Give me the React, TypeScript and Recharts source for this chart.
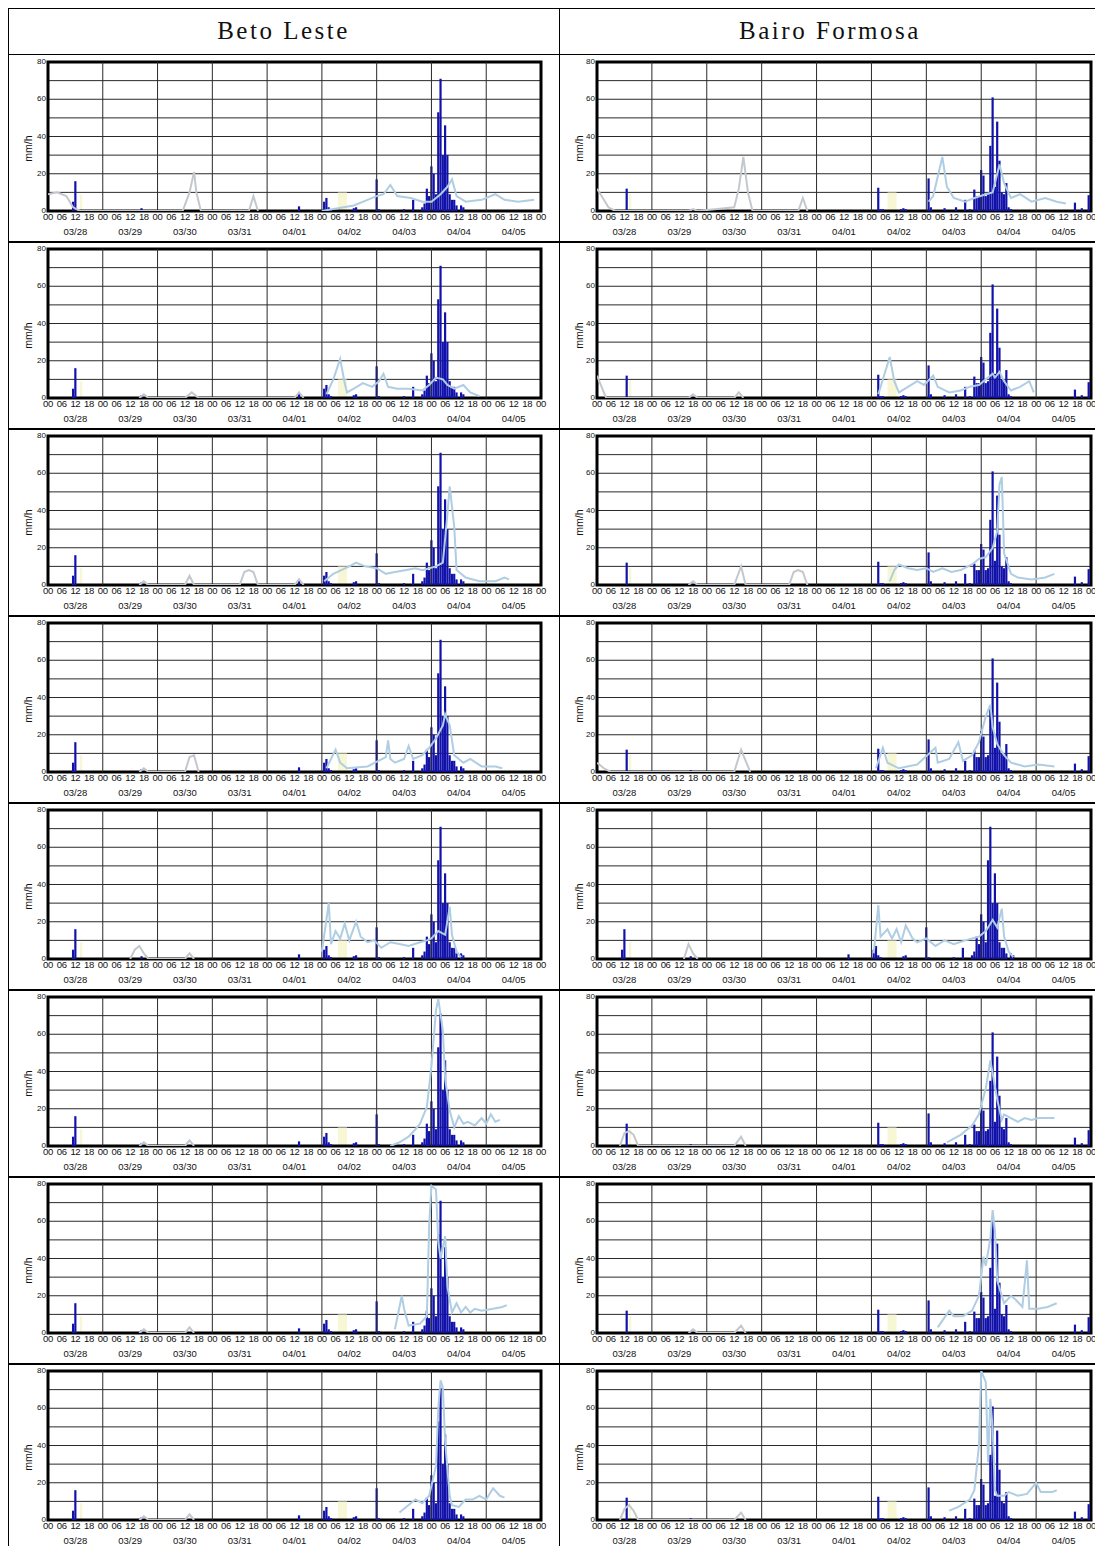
import {
  ComposedChart,
  Bar,
  Line,
  Area,
  XAxis,
  YAxis,
  CartesianGrid,
  ReferenceLine,
  ReferenceArea,
} from "recharts";

type Pt = [number, number];

// hour 0 = 03/28 00:00, one row per hour
const HOURS = 216;
const DAYS = ["03/28", "03/29", "03/30", "03/31", "04/01", "04/02", "04/03", "04/04", "04/05"];
const STATIONS = ["Beto Leste", "Bairo Formosa"];
const Y_TICKS = [0, 10, 20, 30, 40, 50, 60, 70, 80];
const HOUR_TICKS = Array.from({ length: HOURS / 6 + 1 }, (_, i) => i * 6);
const DAY_LINES = [24, 48, 72, 96, 120, 144, 168, 192];
// forecast points before this hour are drawn grey, later ones light blue
const SPLIT_HOUR = 118;

// observed rain (mm/h) by hour
const OBS_BETO: Pt[] = [
  [11, 5], [12, 16], [41, 1.5], [110, 2.5], [121, 5], [122, 7], [123, 2], [124, 1],
  [134, 1.5], [135, 2], [144, 17], [145, 1], [156, 1], [160, 6], [164, 2], [165, 4],
  [166, 12], [167, 8], [168, 24], [169, 20], [170, 9], [171, 53], [172, 71], [173, 30],
  [174, 46], [175, 30], [176, 9], [177, 6], [178, 6], [179, 3], [181, 3], [182, 2],
];
const OBS_BAIRO: Pt[] = [
  [13, 12], [41, 1], [123, 12.5], [124, 1], [125, 1], [133, 1], [134, 1.5], [135, 1],
  [145, 17.5], [146, 2], [152, 1.5], [157, 2], [161, 6], [163, 1], [165, 11.5], [166, 8],
  [167, 8], [168, 22], [169, 19], [170, 8], [171, 9], [172, 35], [173, 61], [174, 13],
  [175, 48], [176, 27], [177, 10], [178, 9], [179, 15], [180, 2], [181, 1], [209, 4.5],
  [212, 1.5], [215, 8.5],
];

// pale yellow blocks behind the series
const YELLOW: Pt[] = [[14, 9], [15, 9], [127, 10], [128, 10], [129, 10], [130, 10], [131, 10]];

// forecast runs, one list per table row
const FC_BETO: Pt[][] = [
  [[0, 9], [4, 10], [8, 8], [11, 2], [14, 0], [59, 0], [62, 10], [64, 21], [65, 10], [67, 0],
    [88, 0], [90, 8], [92, 0], [120, 0], [134, 3], [140, 6], [144, 8], [147, 9], [150, 14],
    [153, 8], [159, 7], [164, 5], [168, 5], [172, 9], [175, 13], [177, 17], [179, 8], [183, 5],
    [190, 6], [196, 9], [200, 6], [206, 5], [213, 6]],
  [[40, 0], [42, 2], [44, 0], [60, 0], [63, 3], [66, 0], [108, 0], [110, 3], [112, 0],
    [122, 2], [125, 10], [128, 21], [130, 8], [131, 3], [134, 5], [138, 8], [142, 6], [145, 9],
    [147, 13], [149, 6], [153, 5], [158, 5], [164, 4], [167, 7], [170, 11], [173, 10],
    [175, 7], [178, 5], [182, 7], [185, 3], [189, 1]],
  [[40, 0], [42, 2], [44, 0], [60, 0], [62, 5], [64, 0], [84, 0], [86, 7], [88, 8], [90, 7],
    [92, 0], [108, 0], [110, 3], [112, 0], [121, 2], [125, 6], [132, 10], [135, 12], [139, 10],
    [144, 9], [148, 6], [152, 7], [157, 8], [161, 9], [164, 8], [167, 9], [170, 10], [173, 12],
    [175, 38], [176, 53], [178, 31], [179, 8], [183, 4], [189, 2], [196, 2], [200, 4], [202, 3]],
  [[40, 0], [42, 2], [44, 0], [60, 0], [62, 8], [64, 9], [66, 0], [122, 2], [126, 12],
    [128, 5], [131, 2], [140, 3], [148, 8], [149, 17], [150, 7], [152, 5], [156, 7], [158, 14],
    [160, 7], [164, 9], [167, 13], [170, 18], [173, 25], [174, 31], [176, 25], [178, 9],
    [182, 5], [185, 7], [190, 3], [196, 3], [199, 2]],
  [[36, 0], [38, 5], [40, 7], [42, 3], [44, 0], [60, 0], [62, 3], [64, 0], [120, 4], [123, 30],
    [124, 8], [126, 15], [128, 11], [130, 19], [132, 10], [135, 20], [137, 12], [140, 9],
    [143, 10], [146, 6], [150, 9], [154, 8], [158, 7], [163, 9], [166, 10], [168, 11],
    [171, 15], [174, 13], [176, 28], [177, 13], [179, 4], [181, 1]],
  [[40, 0], [42, 2], [44, 0], [60, 0], [62, 3], [64, 0], [150, 0], [154, 2], [158, 5],
    [161, 9], [163, 12], [166, 21], [168, 43], [170, 73], [171, 79], [173, 62], [174, 36],
    [176, 19], [178, 10], [180, 16], [182, 12], [184, 13], [187, 11], [190, 15], [192, 12],
    [194, 17], [196, 13], [198, 14]],
  [[40, 0], [42, 2], [44, 0], [60, 0], [62, 3], [64, 0], [152, 2], [155, 20], [156, 13],
    [158, 4], [163, 5], [166, 9], [167, 58], [168, 79], [170, 77], [171, 49], [172, 40],
    [174, 52], [175, 25], [177, 11], [179, 16], [181, 11], [183, 14], [185, 11], [187, 13],
    [190, 12], [195, 13], [199, 14], [201, 15]],
  [[40, 0], [42, 2], [44, 0], [60, 0], [62, 3], [64, 0], [154, 4], [158, 8], [161, 11],
    [164, 9], [167, 13], [170, 29], [171, 60], [172, 75], [173, 71], [174, 42], [176, 13],
    [177, 8], [180, 7], [183, 11], [186, 11], [189, 13], [192, 11], [195, 17], [198, 13],
    [200, 12]],
];
const FC_BAIRO: Pt[][] = [
  [[0, 12], [2, 8], [5, 2], [8, 0], [40, 0], [42, 1], [44, 0], [60, 2], [62, 12], [64, 29],
    [66, 10], [68, 0], [88, 0], [90, 7], [92, 0], [145, 5], [147, 8], [151, 29], [153, 13],
    [156, 7], [161, 5], [165, 7], [170, 9], [173, 10], [176, 25], [178, 15], [181, 7],
    [185, 9], [190, 5], [196, 7], [201, 5], [205, 4]],
  [[0, 12], [2, 6], [4, 0], [40, 0], [42, 2], [44, 0], [60, 0], [62, 3], [64, 0], [123, 2],
    [128, 22], [130, 9], [132, 3], [136, 6], [140, 9], [143, 7], [147, 12], [149, 6], [154, 3],
    [159, 4], [163, 6], [167, 7], [170, 10], [173, 13], [174, 11], [176, 14], [178, 9],
    [181, 4], [185, 6], [189, 9], [191, 3]],
  [[40, 0], [42, 2], [44, 0], [60, 0], [63, 10], [65, 0], [84, 0], [86, 7], [88, 8], [90, 7],
    [92, 0], [128, 2], [130, 8], [132, 11], [136, 9], [140, 8], [144, 9], [147, 7], [151, 9],
    [155, 7], [159, 8], [164, 11], [167, 14], [170, 15], [173, 20], [175, 29], [176, 54],
    [177, 58], [178, 17], [181, 6], [184, 4], [190, 3], [196, 4], [200, 6]],
  [[0, 5], [3, 2], [6, 0], [60, 0], [63, 12], [65, 6], [67, 0], [122, 2], [125, 13], [127, 5],
    [132, 2], [140, 4], [148, 13], [149, 5], [154, 7], [158, 16], [160, 6], [164, 9],
    [167, 16], [170, 30], [172, 36], [173, 24], [175, 15], [178, 9], [181, 5], [187, 3],
    [193, 4], [200, 3]],
  [[38, 0], [40, 8], [42, 3], [44, 0], [121, 3], [123, 29], [124, 12], [127, 16], [129, 11],
    [131, 16], [133, 9], [135, 18], [138, 11], [140, 9], [144, 11], [148, 7], [152, 10],
    [156, 8], [161, 10], [164, 11], [167, 12], [170, 15], [173, 21], [175, 17], [177, 27],
    [178, 12], [180, 4], [182, 1]],
  [[10, 0], [12, 7], [14, 8], [16, 6], [18, 0], [60, 0], [63, 5], [65, 0], [153, 2], [159, 6],
    [164, 11], [167, 17], [170, 31], [172, 46], [173, 39], [175, 25], [177, 14], [178, 17],
    [181, 15], [184, 13], [187, 15], [190, 14], [193, 15], [197, 15], [200, 15]],
  [[40, 0], [42, 2], [44, 0], [60, 0], [63, 4], [65, 0], [149, 3], [154, 12], [156, 9],
    [160, 9], [164, 12], [167, 20], [169, 41], [170, 36], [172, 51], [173, 66], [174, 55],
    [175, 28], [178, 16], [181, 20], [183, 18], [186, 14], [188, 39], [189, 13], [193, 13],
    [197, 14], [201, 16]],
  [[10, 0], [12, 6], [14, 8], [16, 5], [18, 0], [60, 0], [63, 4], [65, 0], [154, 5], [158, 7],
    [163, 11], [165, 16], [167, 40], [168, 80], [170, 74], [171, 31], [172, 65], [173, 49],
    [174, 16], [175, 13], [178, 13], [180, 15], [184, 13], [188, 14], [192, 20], [194, 15],
    [199, 15], [201, 16]],
];
// which observed series each Bairo Formosa row shows (row 5 carries the Beto Leste gauge)
const BAIRO_OBS: Pt[][] = [OBS_BAIRO, OBS_BAIRO, OBS_BAIRO, OBS_BAIRO, OBS_BETO, OBS_BAIRO, OBS_BAIRO, OBS_BAIRO];

const HEAD_H = 46;
const ROW_H = 187;
const LEFT_W = 551;
const RIGHT_W = 542;
const TABLE_W = LEFT_W + RIGHT_W + 1;

const AXIS_FONT = "'Liberation Sans Narrow', 'Liberation Sans', Arial, sans-serif";

function buildRows(obs: Pt[], fc: Pt[]) {
  const rows: any[] = [];
  for (let h = 0; h <= HOURS; h++) rows.push({ h, obs: null, grey: null, blue: null, yel: null });
  obs.forEach(([h, v]) => (rows[h].obs = v));
  fc.forEach(([h, v]) => {
    if (h < SPLIT_HOUR) rows[h].grey = v;
    else rows[h].blue = v;
  });
  YELLOW.forEach(([h, v]) => (rows[h].yel = v));
  return rows;
}

const HourTick = (props: any) => {
  const { x, y, payload } = props;
  const h = payload.value as number;
  const day = Math.floor(h / 24);
  return (
    <g fontFamily={AXIS_FONT} fill="#111">
      <text x={x} y={y + 9} textAnchor="middle" fontSize={9.5} letterSpacing={-0.3}>
        {String(h % 24).padStart(2, "0")}
      </text>
      {h % 24 === 12 && day < DAYS.length ? (
        <text x={x} y={y + 24} textAnchor="middle" fontSize={9.5}>
          {DAYS[day]}
        </text>
      ) : null}
    </g>
  );
};

const ValueTick = (props: any) => {
  const { x, y, payload } = props;
  if (payload.value % 20 !== 0) return null;
  return (
    <text x={x - 1} y={y + 2} textAnchor="end" fontSize={8} fontFamily={AXIS_FONT} fill="#111">
      {payload.value}
    </text>
  );
};

const UnitLabel = (props: any) => {
  const vb = props.viewBox;
  const cx = vb.x + 24;
  const cy = vb.y + vb.height / 2 + 12;
  return (
    <text
      x={cx}
      y={cy}
      transform={`rotate(-90 ${cx} ${cy})`}
      textAnchor="middle"
      fontSize={10.5}
      fontFamily={AXIS_FONT}
      fill="#111"
    >
      mm/h
    </text>
  );
};

const RainChart = ({ obs, fc, width, axisW, right }: { obs: Pt[]; fc: Pt[]; width: number; axisW: number; right: number }) => {
  const rows = buildRows(obs, fc);
  return (
    <ComposedChart width={width} height={186} data={rows} margin={{ top: 8, right, bottom: 0, left: 0 }}>
      <CartesianGrid vertical={false} stroke="#2a2a2a" strokeWidth={1} />
      <XAxis
        dataKey="h"
        type="number"
        domain={[0, HOURS]}
        ticks={HOUR_TICKS}
        interval={0}
        tick={<HourTick />}
        tickLine={false}
        axisLine={false}
        tickSize={0}
        tickMargin={0}
        height={29}
        allowDataOverflow
      />
      <YAxis
        type="number"
        domain={[0, 80]}
        ticks={Y_TICKS}
        interval={0}
        tick={<ValueTick />}
        tickLine={false}
        axisLine={false}
        tickSize={0}
        tickMargin={1}
        width={axisW}
        allowDataOverflow
        label={<UnitLabel />}
      />
      {DAY_LINES.map((h) => (
        <ReferenceLine key={h} x={h} stroke="#2a2a2a" strokeWidth={1} />
      ))}
      <Area dataKey="yel" type="linear" fill="#f7f7d6" fillOpacity={1} stroke="none" isAnimationActive={false} />
      <Bar dataKey="obs" fill="#1212aa" barSize={2.2} isAnimationActive={false} />
      <Line dataKey="grey" type="linear" stroke="#c4c8cc" strokeWidth={2} dot={false} connectNulls isAnimationActive={false} />
      <Line dataKey="blue" type="linear" stroke="#afcde3" strokeWidth={2} dot={false} connectNulls isAnimationActive={false} />
      <ReferenceArea x1={0} x2={HOURS} y1={0} y2={80} fill="none" stroke="#000" strokeWidth={3} />
    </ComposedChart>
  );
};

export default function App() {
  const total = HEAD_H + ROW_H * FC_BETO.length;
  const hLines = [0, HEAD_H, ...FC_BETO.map((_, i) => HEAD_H + ROW_H * (i + 1))];
  return (
    <div style={{ position: "relative", width: TABLE_W, height: total, background: "#fff" }}>
      {STATIONS.map((name, i) => (
        <div
          key={name}
          style={{
            position: "absolute",
            left: i === 0 ? 0 : LEFT_W,
            top: 0,
            width: i === 0 ? LEFT_W : RIGHT_W,
            height: HEAD_H,
            lineHeight: `${HEAD_H}px`,
            textAlign: "center",
            fontFamily: "'Liberation Serif', serif",
            fontSize: 25,
            letterSpacing: 2.5,
            color: "#111",
          }}
        >
          {name}
        </div>
      ))}
      {FC_BETO.map((fc, r) => (
        <div key={`l${r}`} style={{ position: "absolute", left: 0, top: HEAD_H + ROW_H * r }}>
          <RainChart obs={OBS_BETO} fc={fc} width={LEFT_W} axisW={40} right={18} />
        </div>
      ))}
      {FC_BAIRO.map((fc, r) => (
        <div key={`r${r}`} style={{ position: "absolute", left: LEFT_W, top: HEAD_H + ROW_H * r }}>
          <RainChart obs={BAIRO_OBS[r]} fc={fc} width={RIGHT_W} axisW={38} right={10} />
        </div>
      ))}
      {hLines.map((y, i) => (
        <div
          key={`h${i}`}
          style={{ position: "absolute", left: 0, top: y, width: TABLE_W, height: i <= 1 ? 1 : 2, background: "#000" }}
        />
      ))}
      {[0, LEFT_W, TABLE_W - 1].map((x) => (
        <div key={`v${x}`} style={{ position: "absolute", left: x, top: 0, width: 1, height: total, background: "#000" }} />
      ))}
    </div>
  );
}
